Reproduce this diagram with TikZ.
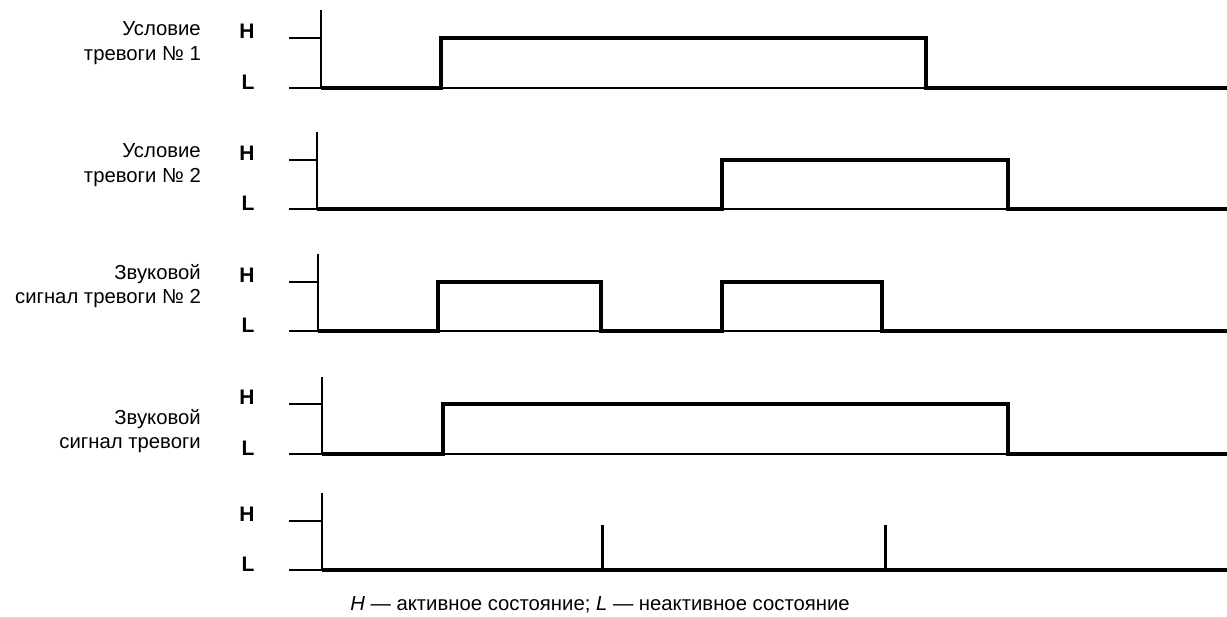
\documentclass[tikz,border=0pt]{standalone}
\usepackage{fontspec}
\setmainfont{Liberation Sans}
\begin{document}
\begin{tikzpicture}[x=1pt,y=-1pt,
  thinline/.style={line width=1.3pt},
  signal/.style={line width=3.8pt, line join=miter},
  spike/.style={line width=3pt},
  lbl/.style={font=\fontsize{20.3}{24.5}\selectfont, align=right, anchor=east, inner sep=0pt},
  hl/.style={font=\bfseries\fontsize{21}{22}\selectfont, inner sep=0pt},
  captext/.style={font=\fontsize{20.3}{22}\selectfont, inner sep=0pt}]
\useasboundingbox (0,0) rectangle (1227,617);
% axes: axis x, top, H level, L level
\foreach \ax/\tp/\hy/\ly in {321/10/38/88, 317/132/160/209, 318/254/282/331, 322/377/404/454, 322/493/521/570}{
  \draw[thinline] (\ax,\tp) -- (\ax,\ly);
  \draw[thinline] (289,\hy) -- (\ax,\hy);
  \draw[thinline] (289,\ly) -- (1227,\ly);
  \node[hl] at (247,\hy-7) {H};
  \node[hl] at (248,\ly-6) {L};
}
% labels
\node[lbl] (l1) at (201,43) {Условие\\тревоги № 1};
\node[lbl] (l2) at (201,165) {Условие\\тревоги № 2};
\node[lbl] (l3) at (201,286) {Звуковой\\сигнал тревоги № 2};
\node[lbl] (l4) at (201,431) {Звуковой\\сигнал тревоги};
% signals
\draw[signal] (321,88) -- (441,88) -- (441,38) -- (926,38) -- (926,88) -- (1227,88);
\draw[signal] (317,209) -- (722,209) -- (722,160) -- (1008,160) -- (1008,209) -- (1227,209);
\draw[signal] (318,331) -- (438,331) -- (438,282) -- (601,282) -- (601,331) -- (722,331) -- (722,282) -- (882,282) -- (882,331) -- (1227,331);
\draw[signal] (322,454) -- (443,454) -- (443,404) -- (1008,404) -- (1008,454) -- (1227,454);
\draw[signal] (322,570) -- (1227,570);
\draw[spike] (602,570) -- (602,525);
\draw[spike] (885,570) -- (885,525);
% caption
\node[captext] (note) at (600,605) {\textit{H} — активное состояние; \textit{L} — неактивное состояние};
\end{tikzpicture}
\end{document}
